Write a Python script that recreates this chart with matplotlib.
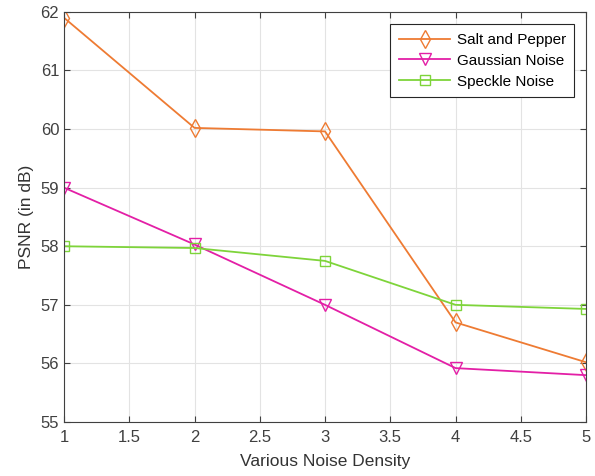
import matplotlib
matplotlib.use("Agg")
import matplotlib.pyplot as plt

plt.rcParams['font.family'] = ['Liberation Sans', 'DejaVu Sans']

x = [1, 2, 3, 4, 5]
salt = [61.9, 60.02, 59.96, 56.7, 56.02]
gauss = [59.0, 58.03, 57.0, 55.92, 55.8]
speckle = [58.0, 57.97, 57.75, 57.0, 56.93]
labels = ['Salt and Pepper', 'Gaussian Noise', 'Speckle Noise']
colors = ['#EE7B33', '#E31FA6', '#7ED43A']

fig = plt.figure(figsize=(5.95, 4.76), dpi=100)
ax = fig.add_axes([0.1076, 0.1134, 0.8774, 0.8616])

ax.plot(x, salt, color=colors[0], marker='d', markersize=9, markerfacecolor='none', lw=1.3, label=labels[0])
ax.plot(x, gauss, color=colors[1], marker='v', markersize=8, markerfacecolor='none', lw=1.3, label=labels[1])
ax.plot(x, speckle, color=colors[2], marker='s', markersize=6.5, markerfacecolor='none', lw=1.3, label=labels[2])

ax.set_xlim(1, 5)
ax.set_ylim(55, 62)
ax.set_xticks([1, 1.5, 2, 2.5, 3, 3.5, 4, 4.5, 5])
ax.set_xticklabels(['1', '1.5', '2', '2.5', '3', '3.5', '4', '4.5', '5'])
ax.set_yticks(range(55, 63))
ax.grid(True, color='#E3E3E3', lw=0.8)
ax.set_axisbelow(True)
for s in ax.spines.values():
    s.set_color('#404040')
    s.set_linewidth(0.8)
ax.tick_params(direction='in', length=4, colors='#404040', labelsize=12, width=0.8, top=True, right=True)
ax.tick_params(axis='x', pad=6)
ax.set_xlabel('Various Noise Density', fontsize=12.5, color='#333333', labelpad=6)
ax.set_ylabel('PSNR (in dB)', fontsize=12.5, color='#333333', labelpad=5)

leg = ax.legend(loc='upper right', bbox_to_anchor=(0.992, 0.988), fontsize=11, frameon=True, fancybox=False,
                edgecolor='#262626', framealpha=1, handlelength=3.4, borderpad=0.55, labelspacing=0.45,
                handletextpad=0.4)
leg.get_frame().set_linewidth(0.8)

fig.savefig('out.png', dpi=100)
